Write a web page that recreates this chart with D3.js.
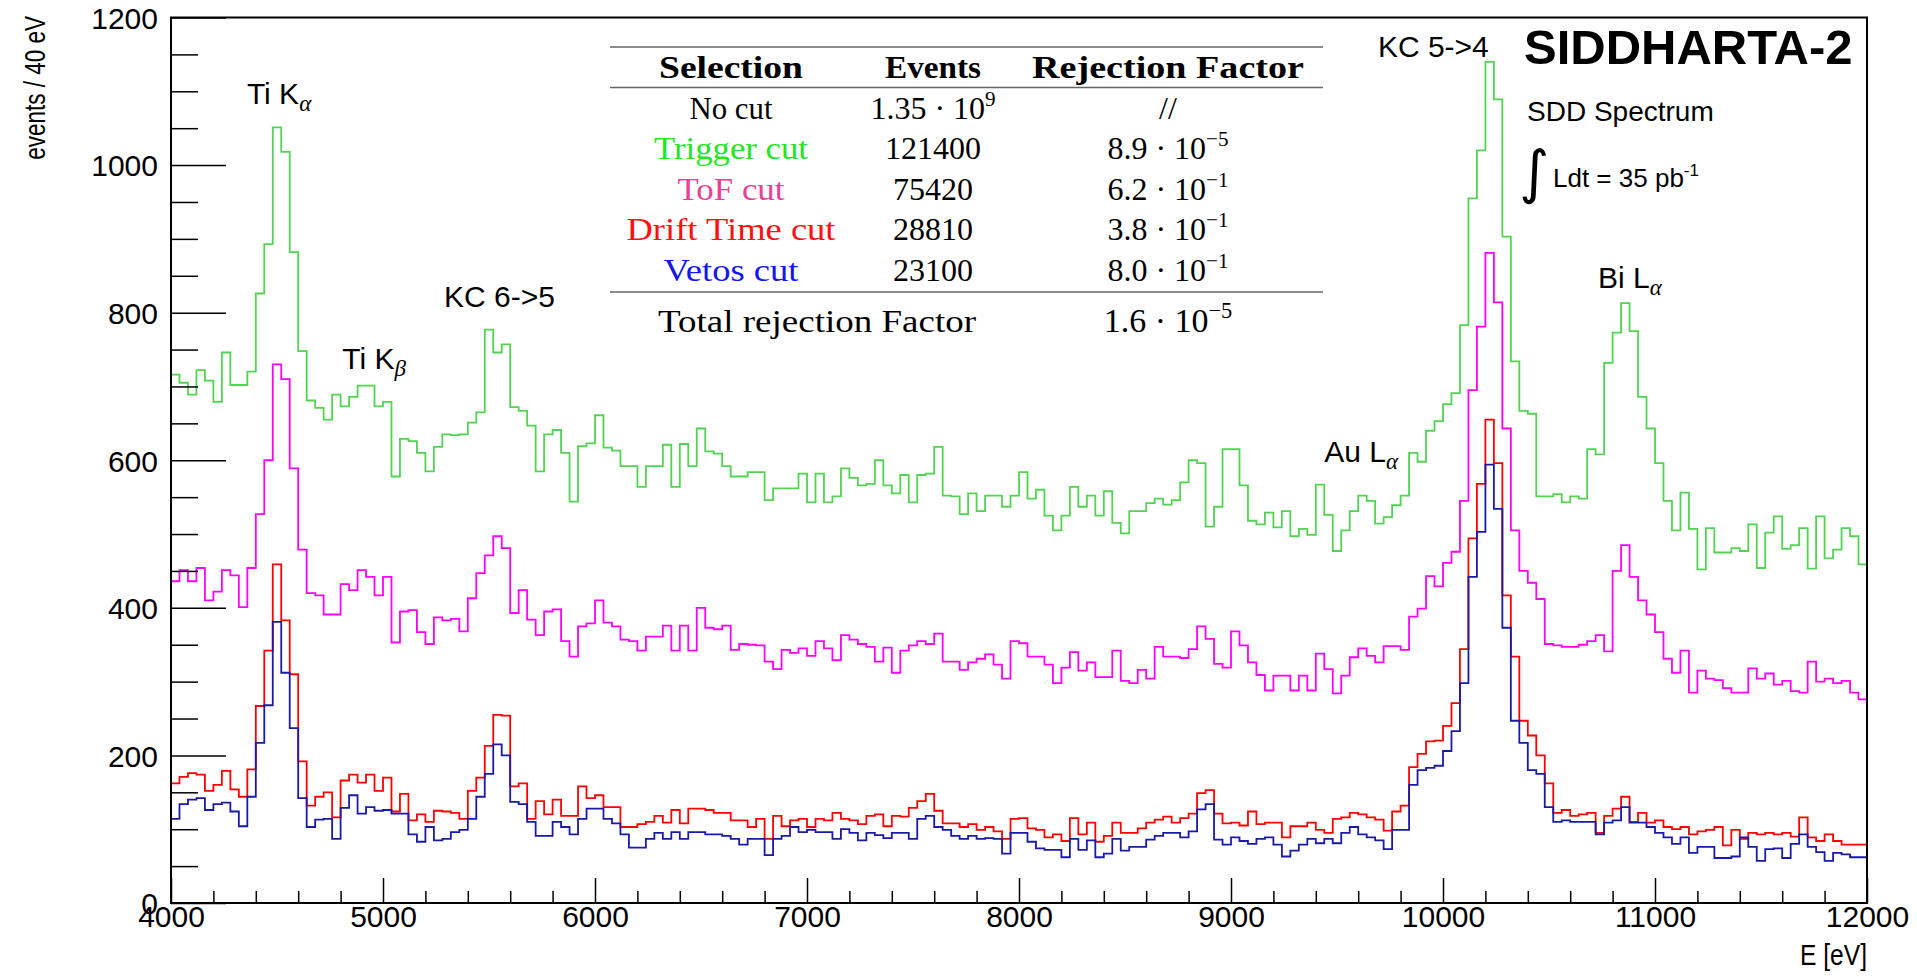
<!DOCTYPE html>
<html>
<head>
<meta charset="utf-8">
<script src="https://cdn.jsdelivr.net/npm/d3@7"></script>
<style>
  html, body { margin: 0; padding: 0; background: #fff; }
  svg { display: block; }
</style>
</head>
<body>
<svg id="chart" width="1917" height="977"></svg>
<script>
// SDD energy spectrum, 40 eV bins from 4000 to 12000 eV, after successive cuts.
const binStart = 4000;
const binWidth = 40;

const triggerCut = [716,705,689,722,708,679,746,702,702,720,
 826,893,1051,1018,882,748,681,671,655,689,
 673,686,701,701,673,679,578,629,626,610,
 585,618,635,634,635,651,665,777,746,757,
 672,667,647,585,635,641,610,544,619,623,
 661,617,613,592,592,564,592,592,621,564,
 622,592,643,612,609,592,578,578,584,584,
 546,562,562,562,582,543,582,543,551,589,
 576,566,568,600,566,555,580,543,580,582,
 618,552,551,527,555,531,552,552,537,552,
 584,548,560,525,505,525,564,537,552,525,
 558,515,501,531,531,542,548,540,546,570,
 600,596,510,537,615,615,566,518,513,529,
 509,531,497,507,499,567,526,477,505,531,
 552,545,514,523,539,552,610,598,640,653,
 676,691,783,955,1020,1140,1089,903,734,667,
 663,551,551,554,543,551,548,615,608,732,
 773,813,775,686,643,596,545,505,556,507,
 452,508,475,475,481,477,513,454,502,524,
 480,485,508,453,524,467,479,508,497,459];

const tofCut = [436,451,436,454,410,422,451,444,401,454,
 527,600,730,710,589,479,420,417,391,391,
 432,424,451,442,417,442,353,395,397,367,
 351,387,383,385,368,413,447,471,497,481,
 393,424,384,363,395,398,355,334,375,379,
 410,380,375,357,355,342,361,361,376,342,
 376,342,400,373,371,376,343,351,350,349,
 327,317,343,339,345,335,355,345,329,363,
 357,351,347,327,346,312,342,349,355,351,
 365,327,327,316,326,331,337,323,304,355,
 352,334,334,323,298,319,340,315,326,306,
 306,342,301,298,316,304,347,334,334,332,
 344,375,358,324,319,368,349,326,309,288,
 308,308,288,308,288,338,317,284,308,333,
 345,335,326,348,348,343,388,399,443,429,
 461,476,545,695,781,881,814,643,505,450,
 434,412,351,349,347,347,350,355,363,341,
 450,485,442,410,391,367,331,312,342,285,
 315,304,302,291,285,285,318,304,311,296,
 301,287,285,327,300,304,298,301,285,276];

const driftTimeCut = [162,171,176,174,152,160,179,154,144,181,
 267,342,459,383,310,192,132,144,150,116,
 166,174,163,174,152,170,124,148,112,120,
 110,125,124,122,114,152,170,213,255,254,
 158,162,114,138,120,140,118,118,158,142,
 146,130,130,103,103,107,110,118,109,126,
 108,128,128,126,122,122,112,112,103,114,
 87,118,104,112,114,103,114,112,122,114,
 112,107,118,120,104,118,117,129,138,148,
 125,108,108,103,107,99,103,97,87,114,
 115,101,99,89,93,84,115,93,109,83,
 91,109,95,95,101,109,113,117,109,115,
 121,149,153,121,108,109,105,124,107,109,
 109,89,104,104,109,99,95,114,116,122,
 120,116,113,98,124,132,184,202,219,220,
 240,271,344,494,568,655,596,417,334,247,
 227,200,162,122,126,118,120,122,95,118,
 128,144,110,122,109,112,103,100,103,93,
 97,99,103,78,99,87,95,93,95,93,
 95,90,116,89,84,93,84,79,79,79];

const vetosCut = [114,134,140,142,126,134,136,124,104,144,
 217,268,381,312,237,142,103,113,114,87,
 129,146,121,130,125,126,121,121,93,83,
 103,85,87,96,99,114,144,175,215,200,
 137,134,110,91,91,110,103,93,114,128,
 128,114,108,93,75,75,87,95,87,96,
 87,96,96,93,93,91,87,79,87,87,
 65,87,91,103,96,99,96,96,87,100,
 95,85,95,92,88,95,95,87,114,118,
 103,99,91,87,91,87,88,87,67,95,
 95,83,74,72,72,62,87,72,85,62,
 67,87,71,76,76,86,91,95,95,89,
 97,127,134,86,79,89,84,80,87,89,
 79,63,71,79,87,81,87,81,95,103,
 93,89,85,73,99,99,160,180,183,186,
 206,233,298,442,503,594,534,373,247,217,
 180,175,130,110,112,110,110,110,93,109,
 112,130,109,109,103,95,89,80,89,68,
 76,76,61,61,63,89,76,57,73,74,
 61,80,93,76,69,57,68,66,62,62];

const xTickLabels = [4000,5000,6000,7000,8000,9000,10000,11000,12000];
const yTickLabels = [0,200,400,600,800,1000,1200];

// Peak annotations: [text, subscript, energy (eV) of text start, counts at baseline]
const peakLabels = [
  ["Ti K", "α", 4358, 1083],
  ["Ti K", "β", 4808, 724],
  ["KC 6->5", "", 5288, 808],
  ["Au L", "α", 9440, 598],
  ["KC 5->4", "", 9693, 1146],
  ["Bi L", "α", 10731, 833]
];

// Cut-flow table
const tableHeader = ["Selection", "Events", "Rejection Factor"];
const selections = ["No cut", "Trigger cut", "ToF cut", "Drift Time cut", "Vetos cut"];
const selectionColors = ["#000000", "#22e622", "#ec3f95", "#ff1010", "#1515ee"];
const eventsCol = ["1.35 · 10^9", "121400", "75420", "28810", "23100"];
const rejectionCol = ["//", "8.9 · 10^−5", "6.2 · 10^−1", "3.8 · 10^−1", "8.0 · 10^−1"];
const totalLabel = "Total rejection Factor";
const totalValue = "1.6 · 10^−5";

const series = [
  { values: triggerCut, color: "#52d352" },
  { values: tofCut, color: "#ff00ff" },
  { values: driftTimeCut, color: "#ff0000" },
  { values: vetosCut, color: "#1a1aa8" }
];

const svg = d3.select("#chart");
const frame = { left: 171, right: 1867, top: 17.5, bottom: 903 };
const nBins = triggerCut.length;
const edges = d3.range(nBins + 1).map(i => binStart + i * binWidth);

const x = d3.scaleLinear().domain([binStart, binStart + nBins * binWidth]).range([frame.left, frame.right]);
const y = d3.scaleLinear().domain([0, 1200]).range([frame.bottom, frame.top]);

const sans = "'Liberation Sans', Arial, Helvetica, sans-serif";
const serif = "'Liberation Serif', 'Times New Roman', serif";

svg.append("rect").attr("width", 1917).attr("height", 977).attr("fill", "#fff");

svg.append("defs").append("clipPath").attr("id", "plotClip")
  .append("rect")
  .attr("x", frame.left).attr("y", frame.top)
  .attr("width", frame.right - frame.left).attr("height", frame.bottom - frame.top);

// Histogram outlines
const line = d3.line().curve(d3.curveStepAfter);
const plot = svg.append("g").attr("clip-path", "url(#plotClip)");
series.forEach(s => {
  const pts = s.values.map((v, i) => [x(edges[i]), y(v)]);
  pts.push([x(edges[nBins]), y(s.values[nBins - 1])]);
  plot.append("path")
    .attr("d", line(pts))
    .attr("fill", "none")
    .attr("stroke", s.color)
    .attr("stroke-width", 1.8)
    .attr("stroke-linejoin", "miter");
});

// Axes
const yMinor = d3.range(0, 1201, 50).filter(v => v % 200 !== 0);
const xMinor = d3.range(4000, 12001, 200).filter(v => v % 1000 !== 0);

const yAxis = svg.append("g").attr("transform", `translate(${frame.left},0)`)
  .call(d3.axisLeft(y).tickValues(yTickLabels).tickSize(-55).tickPadding(13).tickFormat(d3.format("d")));
svg.append("g").attr("transform", `translate(${frame.left},0)`)
  .call(d3.axisLeft(y).tickValues(yMinor).tickSize(-27).tickFormat(""));

svg.append("g").attr("transform", `translate(0,${frame.bottom})`)
  .call(d3.axisBottom(x).tickValues(xTickLabels).tickSize(-25).tickPadding(3).tickFormat(d3.format("d")));
svg.append("g").attr("transform", `translate(0,${frame.bottom})`)
  .call(d3.axisBottom(x).tickValues(xMinor).tickSize(-12).tickFormat(""));

svg.selectAll(".domain").remove();
svg.selectAll(".tick line").attr("stroke", "#000").attr("stroke-width", 1.5);
svg.selectAll(".tick text")
  .attr("font-family", sans).attr("font-size", 30).attr("fill", "#000");
yAxis.selectAll(".tick text").attr("dy", "0.36em");

// Frame
svg.append("rect")
  .attr("x", frame.left).attr("y", frame.top)
  .attr("width", frame.right - frame.left).attr("height", frame.bottom - frame.top)
  .attr("fill", "none").attr("stroke", "#000").attr("stroke-width", 2);

// Axis titles (narrow lettering via a horizontal squeeze)
svg.append("text")
  .attr("transform", "translate(45,16) rotate(-90) scale(0.75,1)")
  .attr("text-anchor", "end")
  .attr("font-family", sans).attr("font-size", 30)
  .text("events / 40 eV");

svg.append("text")
  .attr("transform", `translate(${frame.right},965) scale(0.82,1)`)
  .attr("text-anchor", "end")
  .attr("font-family", sans).attr("font-size", 30)
  .text("E [eV]");

// Peak labels
peakLabels.forEach(([txt, sub, e, c]) => {
  const t = svg.append("text")
    .attr("x", x(e)).attr("y", y(c))
    .attr("font-family", sans).attr("font-size", 30).attr("fill", "#000");
  t.append("tspan").text(txt);
  if (sub) {
    t.append("tspan").attr("dy", 7).attr("font-size", 23)
      .attr("font-family", serif).attr("font-style", "italic").text(sub);
  }
});

// Experiment tag
svg.append("text").attr("x", 1524).attr("y", 64)
  .attr("font-family", sans).attr("font-weight", "bold").attr("font-size", 49)
  .text("SIDDHARTA-2");
svg.append("text").attr("x", 1527).attr("y", 121)
  .attr("font-family", sans).attr("font-size", 28)
  .text("SDD Spectrum");
svg.append("text").attr("x", 1519).attr("y", 192)
  .attr("font-family", "'DejaVu Sans', sans-serif").attr("font-size", 58)
  .text("∫");
const lum = svg.append("text").attr("x", 1553).attr("y", 187)
  .attr("font-family", sans).attr("font-size", 26);
lum.append("tspan").text("Ldt = 35 pb");
lum.append("tspan").attr("dy", -11).attr("font-size", 17).text("-1");

// Table
const table = svg.append("g");
const colX = [731, 933, 1168];
const rowY = [119, 159, 200, 240, 281];
const ruleX = [610, 1323];
[47, 87.5, 292].forEach(ry => {
  table.append("line").attr("x1", ruleX[0]).attr("x2", ruleX[1])
    .attr("y1", ry).attr("y2", ry)
    .attr("stroke", "#666").attr("stroke-width", 1.6);
});

function mathText(g, str, cx, cy, size, color) {
  const t = g.append("text").attr("x", cx).attr("y", cy)
    .attr("text-anchor", "middle")
    .attr("font-family", serif).attr("font-size", size).attr("fill", color || "#000");
  const parts = str.split("^");
  t.append("tspan").text(parts[0]);
  if (parts.length > 1) {
    t.append("tspan").attr("dy", -size * 0.42).attr("font-size", size * 0.66).text(parts[1]);
  }
  return t;
}

const headerWidths = [144, 96, 272];
tableHeader.forEach((h, i) => {
  table.append("text").attr("x", colX[i]).attr("y", 78)
    .attr("text-anchor", "middle")
    .attr("font-family", serif).attr("font-weight", "bold").attr("font-size", 31)
    .attr("textLength", headerWidths[i]).attr("lengthAdjust", "spacingAndGlyphs")
    .text(h);
});

const selWidths = [83, 154, 107, 209, 135];
selections.forEach((s, i) => {
  table.append("text").attr("x", colX[0]).attr("y", rowY[i])
    .attr("text-anchor", "middle")
    .attr("font-family", serif).attr("font-size", 31)
    .attr("fill", selectionColors[i])
    .attr("textLength", selWidths[i]).attr("lengthAdjust", "spacingAndGlyphs")
    .text(s);
  mathText(table, eventsCol[i], colX[1], rowY[i], 32);
  mathText(table, rejectionCol[i], colX[2], rowY[i], 32);
});

table.append("text").attr("x", 817).attr("y", 332)
  .attr("text-anchor", "middle")
  .attr("font-family", serif).attr("font-size", 32)
  .attr("textLength", 318).attr("lengthAdjust", "spacingAndGlyphs")
  .text(totalLabel);
mathText(table, totalValue, colX[2], 332, 34);
</script>
</body>
</html>
